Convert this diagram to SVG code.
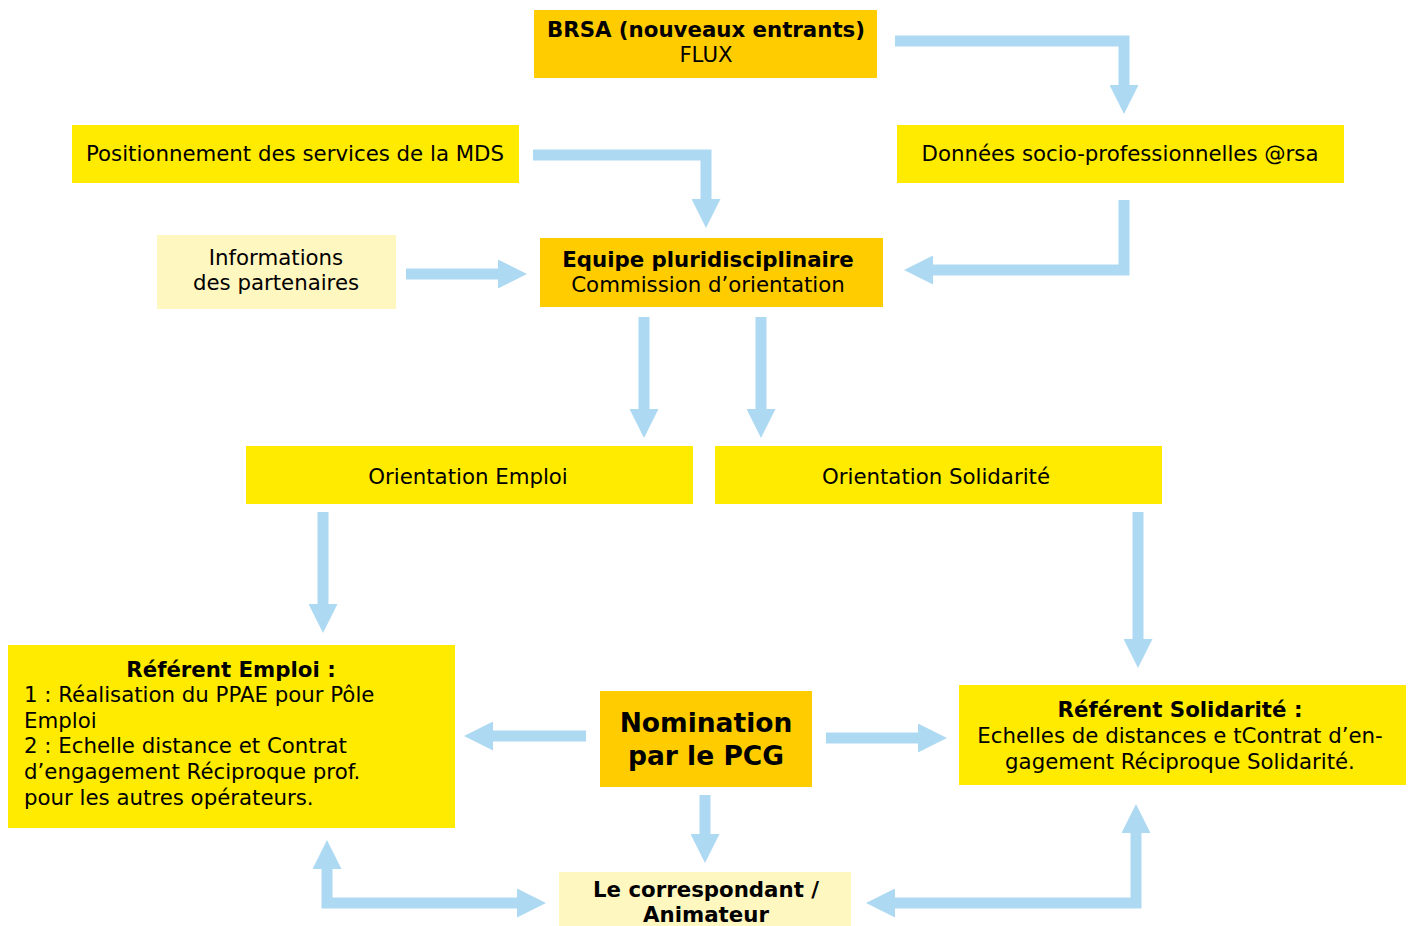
<svg xmlns="http://www.w3.org/2000/svg" width="1408" height="926" viewBox="0 0 1408 926">
<style>
text{font-family:"DejaVu Sans",Verdana,sans-serif;font-size:21.3px;fill:#000}
.b{font-weight:bold}
.c{text-anchor:middle}
.or{fill:#FFCC00}
.ye{fill:#FFEB00}
.lt{fill:#FFF7C0}
.ar{fill:none;stroke:#ADDAF2;stroke-width:11;stroke-linejoin:miter}
</style>
<defs>
<marker id="h" markerUnits="userSpaceOnUse" markerWidth="29" markerHeight="29" refX="0" refY="14.5" orient="auto-start-reverse" viewBox="0 0 29 29">
<path d="M0,0 L29,14.5 L0,29 z" fill="#ADDAF2"/>
</marker>
</defs>
<rect width="1408" height="926" fill="#fff"/>
<g id="connectors">
<polyline class="ar" points="895,41 1124,41 1124,85" marker-end="url(#h)"/>
<polyline class="ar" points="533,155 706,155 706,199" marker-end="url(#h)"/>
<polyline class="ar" points="1124,200 1124,270 933,270" marker-end="url(#h)"/>
<polyline class="ar" points="406,274 498,274" marker-end="url(#h)"/>
<polyline class="ar" points="644,317 644,409" marker-end="url(#h)"/>
<polyline class="ar" points="761,317 761,409" marker-end="url(#h)"/>
<polyline class="ar" points="323,512 323,604" marker-end="url(#h)"/>
<polyline class="ar" points="1138,512 1138,639" marker-end="url(#h)"/>
<polyline class="ar" points="586,736 493,736" marker-end="url(#h)"/>
<polyline class="ar" points="826,738 918,738" marker-end="url(#h)"/>
<polyline class="ar" points="705,795 705,834" marker-end="url(#h)"/>
<polyline class="ar" points="327,869 327,903 517,903" marker-start="url(#h)" marker-end="url(#h)"/>
<polyline class="ar" points="895,903 1136,903 1136,833" marker-start="url(#h)" marker-end="url(#h)"/>
</g>
<g id="brsa">
<rect class="or" x="534" y="10" width="343" height="68"/>
<text class="b c" x="706" y="37">BRSA (nouveaux entrants)</text>
<text class="c" x="706" y="62">FLUX</text>
</g>
<g id="positionnement">
<rect class="ye" x="72" y="125" width="447" height="58"/>
<text class="c" x="295" y="161">Positionnement des services de la MDS</text>
</g>
<g id="donnees">
<rect class="ye" x="897" y="125" width="447" height="58"/>
<text class="c" x="1120" y="161">Données socio-professionnelles @rsa</text>
</g>
<g id="informations">
<rect class="lt" x="157" y="235" width="239" height="74"/>
<text class="c" x="276" y="265">Informations</text>
<text class="c" x="276" y="290">des partenaires</text>
</g>
<g id="equipe">
<rect class="or" x="540" y="238" width="343" height="69"/>
<text class="b c" x="708" y="267">Equipe pluridisciplinaire</text>
<text class="c" x="708" y="292">Commission d’orientation</text>
</g>
<g id="orientation-emploi">
<rect class="ye" x="246" y="446" width="447" height="58"/>
<text class="c" x="468" y="484">Orientation Emploi</text>
</g>
<g id="orientation-solidarite">
<rect class="ye" x="715" y="446" width="447" height="58"/>
<text class="c" x="936" y="484">Orientation Solidarité</text>
</g>
<g id="referent-emploi">
<rect class="ye" x="8" y="645" width="447" height="183"/>
<text class="b c" x="231" y="677">Référent Emploi :</text>
<text x="24" y="702">1 : Réalisation du PPAE pour Pôle</text>
<text x="24" y="728">Emploi</text>
<text x="24" y="753">2 : Echelle distance et Contrat</text>
<text x="24" y="779">d’engagement Réciproque prof.</text>
<text x="24" y="805">pour les autres opérateurs.</text>
</g>
<g id="nomination">
<rect class="or" x="600" y="691" width="212" height="96"/>
<text class="b c" x="706" y="732" style="font-size:26.5px">Nomination</text>
<text class="b c" x="706" y="765" style="font-size:26.5px">par le PCG</text>
</g>
<g id="referent-solidarite">
<rect class="ye" x="959" y="685" width="447" height="100"/>
<text class="b c" x="1180" y="717">Référent Solidarité :</text>
<text class="c" x="1180" y="743">Echelles de distances e tContrat d’en-</text>
<text class="c" x="1180" y="769">gagement Réciproque Solidarité.</text>
</g>
<g id="correspondant">
<rect class="lt" x="559" y="872" width="292" height="54"/>
<text class="b c" x="706" y="897">Le correspondant /</text>
<text class="b c" x="706" y="922">Animateur</text>
</g>
</svg>
